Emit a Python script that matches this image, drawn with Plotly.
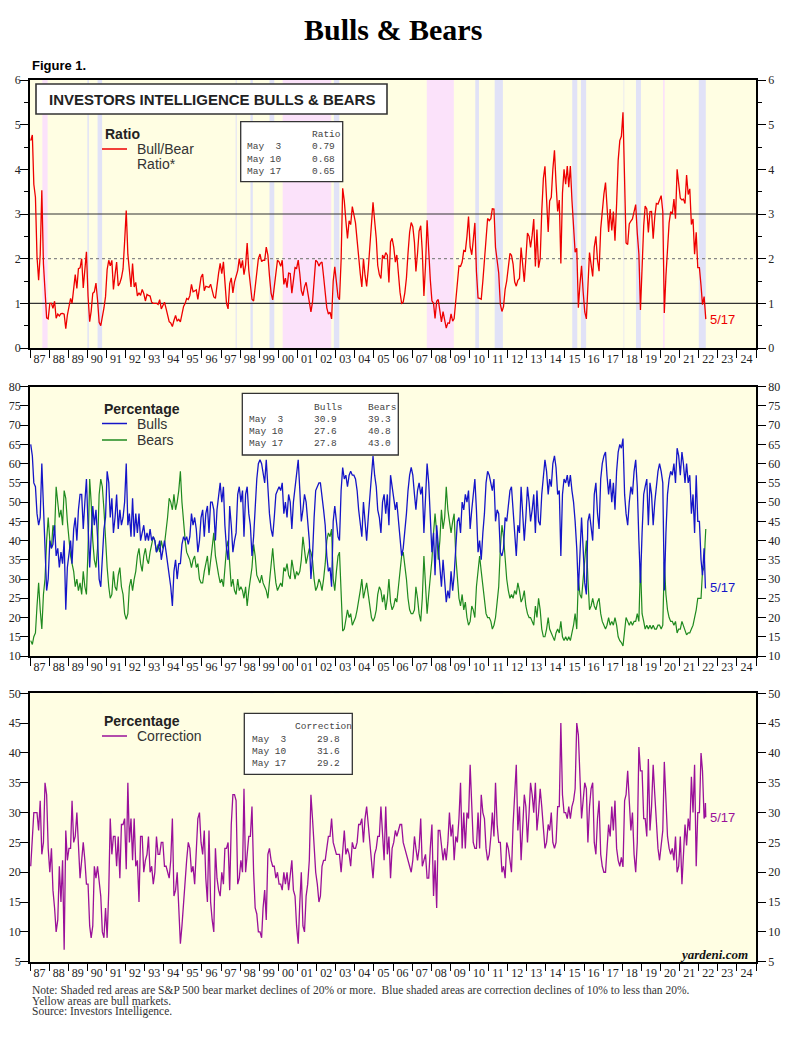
import pandas as pd
import plotly.graph_objects as go

W, H = 800, 1040
OFF = 8  # page body margin in the browser

# Investors Intelligence survey, monthly readings Jan 1987 .. Apr 2022 (percent)
bulls = [
    65, 62, 55, 54, 47, 44, 46, 60, 49, 35, 27, 30,        # 1987
    40, 38, 39, 44, 36, 38, 33, 37, 34, 40, 22, 33,        # 1988
    36, 40, 34, 43, 46, 40, 48, 52, 52, 43, 50, 56,        # 1989
    44, 33, 41, 49, 44, 48, 41, 30, 28, 36, 43, 46,        # 1990
    58, 55, 46, 51, 42, 46, 52, 43, 48, 44, 46, 50,        # 1991
    60, 44, 47, 41, 51, 41, 47, 42, 47, 40, 42, 44,        # 1992
    40, 42, 40, 43, 40, 41, 40, 37, 38, 40, 35, 37,        # 1993
    40, 37, 34, 30, 28, 23, 32, 35, 30, 34, 34, 39,        # 1994
    41, 40, 41, 39, 41, 47, 44, 46, 43, 37, 40, 46,        # 1995
    48, 41, 47, 49, 42, 50, 50, 48, 40, 48, 52, 55,        # 1996
    50, 54, 44, 38, 35, 49, 44, 37, 40, 42, 52, 54,        # 1997
    50, 53, 41, 52, 54, 47, 44, 36, 41, 50, 56, 60,        # 1998
    61, 60, 57, 55, 61, 52, 47, 43, 41, 46, 52, 53,        # 1999
    54, 53, 55, 47, 50, 46, 52, 50, 43, 50, 54, 57,        # 2000
    61, 53, 45, 48, 52, 50, 46, 40, 30, 36, 46, 53,        # 2001
    54, 55, 55, 52, 48, 44, 36, 32, 33, 28, 45, 49,        # 2002
    45, 41, 40, 53, 59, 56, 57, 54, 57, 58, 57, 57,        # 2003
    56, 53, 48, 45, 41, 50, 44, 40, 46, 52, 57, 62,        # 2004
    57, 54, 48, 46, 42, 50, 52, 47, 52, 44, 57, 54,        # 2005
    52, 48, 50, 45, 40, 36, 38, 42, 47, 53, 57, 59,        # 2006
    57, 52, 48, 53, 55, 52, 54, 42, 50, 60, 55, 46,        # 2007
    37, 42, 31, 44, 38, 33, 28, 35, 30, 24, 27, 25,        # 2008
    32, 27, 31, 38, 45, 46, 42, 50, 48, 52, 50, 53,        # 2009
    43, 48, 53, 56, 48, 37, 40, 35, 42, 47, 55, 58,        # 2010
    57, 55, 53, 56, 45, 48, 47, 37, 36, 38, 46, 45,        # 2011
    49, 53, 54, 47, 40, 36, 44, 42, 54, 46, 40, 46,        # 2012
    54, 50, 45, 48, 52, 42, 53, 45, 44, 52, 57, 61,        # 2013
    58, 52, 56, 54, 60, 62, 59, 52, 53, 36, 52, 56,        # 2014
    55, 57, 54, 57, 53, 50, 45, 38, 27, 37, 46, 38,        # 2015
    29, 26, 45, 47, 43, 40, 52, 55, 47, 43, 56, 60,        # 2016
    62, 63, 57, 52, 56, 50, 55, 48, 58, 63, 65, 64,        # 2017
    66.5, 52, 47, 44, 50, 54, 52, 58, 61, 54, 40, 29,      # 2018
    42, 52, 54, 56, 44, 55, 52, 44, 50, 55, 58, 60,        # 2019
    58, 55, 27, 42, 52, 56, 58, 57, 60, 55, 64, 62,        # 2020
    57, 63, 60, 55, 60, 55, 57, 47, 52, 42, 57, 45,        # 2021
    45, 35, 31, 38,                                        # 2022
]
bears = [
    14, 13, 15, 16, 23, 29, 22, 17, 26, 30, 40, 46,        # 1987
    40, 38, 44, 42, 54, 50, 46, 48, 44, 53, 51, 45,        # 1988
    40, 36, 34, 32, 28, 30, 27, 29, 26, 32, 28, 26,        # 1989
    38, 56, 50, 40, 35, 33, 38, 52, 56, 54, 48, 40,        # 1990
    33, 28, 25, 26, 32, 28, 27, 31, 33, 28, 26, 21,        # 1991
    19.5, 21, 28, 30, 27, 30, 32, 36, 38, 34, 32, 36,      # 1992
    38, 35, 34, 37, 39, 41, 40, 37, 39, 37, 40, 38,        # 1993
    39, 42, 46, 51, 50, 48, 52, 48, 50, 53, 58, 50,        # 1994
    44, 40, 37, 36, 35, 33, 35, 36, 33, 34, 30, 29,        # 1995
    29, 32, 34, 36, 31, 35, 38, 42, 36, 33, 31, 29,        # 1996
    30, 28, 32, 38, 40, 34, 28, 30, 27, 26, 30, 27,        # 1997
    28, 27, 25, 28, 23, 27, 30, 33, 39, 36, 31, 30,        # 1998
    29, 31, 29, 28, 27, 25, 29, 35, 38, 33, 29, 27,        # 1999
    28, 29, 28, 33, 32, 34, 31, 30, 35, 33, 30, 32,        # 2000
    31, 32, 35, 41, 38, 34, 36, 38, 37, 35, 30, 27,        # 2001
    28, 30, 29, 27, 30, 34, 40, 42, 41, 43, 30, 27,        # 2002
    32, 36, 37, 27, 16.5, 17, 20, 22, 20, 21, 18, 19,      # 2003
    20, 22, 24, 27, 30, 25, 27, 29, 26, 23, 20, 19,        # 2004
    20, 22, 26, 28, 27, 24, 26, 22, 25, 30, 24, 22,        # 2005
    23, 25, 24, 28, 32, 36, 37, 34, 30, 25, 22, 21,        # 2006
    21, 22, 28, 25, 21, 19, 25, 36, 27, 21, 26, 30,        # 2007
    35, 42, 47, 42, 35, 40, 48, 43, 46, 54, 48, 45,        # 2008
    42, 45, 47, 36, 30, 25, 23, 26, 22, 24, 20, 18,        # 2009
    19, 23, 22, 20, 28, 33, 36, 32, 28, 24, 21, 20,        # 2010
    20, 19, 17, 18, 20, 24, 28, 38, 44, 41, 35, 30,        # 2011
    27, 25, 26, 25, 27, 26, 29, 27, 24, 25, 27, 23,        # 2012
    21, 20, 20, 19, 18, 23, 20, 25, 22, 17, 15, 15,        # 2013
    17, 20, 17, 16, 15, 14, 16, 17, 16, 19, 15, 14,        # 2014
    15, 14, 15, 14, 16, 18, 21, 17, 30, 26, 25, 30,        # 2015
    36, 40, 30, 22, 23, 25, 23, 22, 24, 25, 21, 19,        # 2016
    18, 17, 18, 20, 18, 19, 18, 20, 18, 15, 14, 13.5,      # 2017
    12.6, 16, 20, 19, 18, 19, 18, 19, 19, 21, 19, 34,      # 2018
    21, 19, 17, 18, 17, 18, 17, 18, 17, 17, 18, 18,        # 2019
    17, 18, 34.5, 26, 22, 20, 19, 19, 18, 19, 16, 17,      # 2020
    17, 19, 18, 17, 15.5, 16, 16, 17, 18, 20, 22, 25,      # 2021
    25, 25, 32, 33,                                        # 2022
]
# latest weekly readings
latest_dates = ["2022-05-03", "2022-05-10", "2022-05-17"]
latest_bulls = [30.9, 27.6, 27.8]
latest_bears = [39.3, 40.8, 43.0]

# S&P 500 bear markets (red shading) and corrections (blue shading)
bear_markets = [("1987-08-25", "1987-12-04"), ("2000-03-24", "2002-10-09"),
                ("2007-10-09", "2009-03-09"), ("2020-02-19", "2020-03-23")]
corrections = [("1990-01-02", "1990-01-30"), ("1990-07-16", "1990-10-11"),
               ("1997-10-07", "1997-10-27"), ("1998-07-17", "1998-08-31"),
               ("1999-07-16", "1999-10-15"), ("2002-11-27", "2003-03-11"),
               ("2010-04-23", "2010-07-02"), ("2011-04-29", "2011-10-03"),
               ("2015-05-21", "2015-08-25"), ("2015-11-03", "2016-02-11"),
               ("2018-01-26", "2018-02-08"), ("2018-09-20", "2018-12-24"),
               ("2022-01-03", "2022-05-17")]

assert len(bulls) == len(bears)
months = pd.date_range("1987-01-01", periods=len(bulls), freq="MS") + pd.Timedelta(days=14)
dates = list(months.strftime("%Y-%m-%d")) + latest_dates
bull_s = pd.Series(bulls + latest_bulls, index=pd.to_datetime(dates))
bear_s = pd.Series(bears + latest_bears, index=pd.to_datetime(dates))
ratio_s = bull_s / bear_s
corr_s = 100 - bull_s - bear_s

RED = "#ee0000"
BLUE = "#1515c8"
GREEN = "#1f8a1f"
PURPLE = "#9a109a"
YELLOW = "#fffee3"
PINK = "#fbe2fa"
LBLUE = "#e1e2f7"
SERIF = "Liberation Serif"
SANS = "Liberation Sans"
MONO = "Liberation Mono"


def px(x):
    return (x - OFF) / W


def py(y):
    return 1 - (y - OFF) / H


X_DOM = [px(30), px(756)]
panels = [  # (yaxis name, domain, range, dtick)
    ("y", [py(348), py(80)], [0, 6], 1),
    ("y2", [py(656), py(386.7)], [10, 80], 5),
    ("y3", [py(961.7), py(693.3)], [5, 50], 5),
]

fig = go.Figure()

fig.add_trace(go.Scatter(x=ratio_s.index, y=ratio_s.values, mode="lines",
                         line=dict(color=RED, width=1.3), xaxis="x", yaxis="y"))
fig.add_trace(go.Scatter(x=bear_s.index, y=bear_s.values, mode="lines",
                         line=dict(color=GREEN, width=1.2), xaxis="x2", yaxis="y2"))
fig.add_trace(go.Scatter(x=bull_s.index, y=bull_s.values, mode="lines",
                         line=dict(color=BLUE, width=1.3), xaxis="x2", yaxis="y2"))
fig.add_trace(go.Scatter(x=corr_s.index, y=corr_s.values, mode="lines",
                         line=dict(color=PURPLE, width=1.3), xaxis="x3", yaxis="y3"))
# invisible copies so the right-hand axes get drawn
for s, ya in [(ratio_s, "y4"), (bull_s, "y5"), (corr_s, "y6")]:
    fig.add_trace(go.Scatter(x=s.index, y=s.values, mode="lines", opacity=0,
                             line=dict(width=0), xaxis="x", yaxis=ya, hoverinfo="skip"))

tickfont = dict(family=SERIF, size=12, color="#222")
layout = dict(width=W, height=H, margin=dict(l=0, r=0, t=0, b=0, pad=0),
              paper_bgcolor="white", plot_bgcolor=YELLOW, showlegend=False,
              hovermode=False)

for i, (ya, dom, rng, dt) in enumerate(panels):
    n = "" if i == 0 else str(i + 1)
    xa = "x" + n
    layout["xaxis" + n] = dict(
        domain=X_DOM, anchor=ya, type="date", range=["1987-01-01", "2025-01-01"],
        tick0="1987-01-01", dtick="M12", tickformat="%y", ticklabelmode="period",
        ticks="outside", ticklen=8, tickwidth=1, tickcolor="black",
        showgrid=False, zeroline=False, showline=True, linewidth=1.5,
        linecolor="black", mirror=True, tickfont=tickfont, ticklabelstandoff=-9,
        automargin=False, **({} if i == 0 else dict(matches="x")))
    ax = dict(domain=dom, range=rng, dtick=dt, tick0=0, ticks="outside", ticklen=8,
              tickwidth=1, tickcolor="black", showgrid=False, zeroline=False,
              showline=True, linewidth=1.5, linecolor="black", tickfont=tickfont,
              automargin=False)
    if i == 0:
        ax["minor"] = dict(dtick=0.5, ticks="outside", ticklen=4, tickcolor="black",
                           showgrid=False)
    layout["yaxis" + n] = dict(ax, anchor=xa, mirror=True, ticklabelstandoff=-3)
    layout["yaxis" + str(i + 4)] = dict(ax, overlaying=ya, side="right", anchor=xa)

fig.update_layout(**layout)

# shaded market regimes
for ya, _, _, _ in panels:
    xa = "x" + ya[1:]
    for spans, col in [(corrections, LBLUE), (bear_markets, PINK)]:
        for a, b in spans:
            fig.add_shape(type="rect", xref=xa, yref=ya + " domain", x0=a, x1=b,
                          y0=0, y1=1, fillcolor=col, line_width=0, layer="below")

# reference lines
ref_lines = [("y", 1, "#333", "solid"), ("y", 3, "#333", "solid"),
             ("y", 2, "#888", "dot"), ("y2", 50, "#333", "solid"),
             ("y3", 25, GREEN, "solid")]
for ya, v, col, dash in ref_lines:
    xa = "x" + ya[1:]
    fig.add_shape(type="line", xref=xa + " domain", yref=ya, x0=0, x1=1, y0=v, y1=v,
                  line=dict(color=col, width=1.1, dash=dash), layer="below")


def text(x, y, s, size=14, family=SANS, color="#222", anchor="left", **kw):
    fig.add_annotation(x=px(x), y=py(y), xref="paper", yref="paper", text=s,
                       showarrow=False, xanchor=anchor, yanchor="middle",
                       font=dict(family=family, size=size, color=color), **kw)


def box(x0, y0, x1, y1, width=1.3):
    fig.add_shape(type="rect", xref="paper", yref="paper", x0=px(x0), x1=px(x1),
                  y0=py(y1), y1=py(y0), fillcolor="white",
                  line=dict(color="#333", width=width), layer="above")


def legend_line(y, col):
    fig.add_shape(type="line", xref="paper", yref="paper", x0=px(102), x1=px(127),
                  y0=py(y), y1=py(y), line=dict(color=col, width=1.5))


text(393, 29, "<b>Bulls & Bears</b>", size=30, family=SERIF, color="black", anchor="center")
text(30, 65, "<b>Figure 1.</b>", size=13, color="black")

box(36, 84, 387, 114, width=1.6)
text(211.5, 99.5, "<b>INVESTORS INTELLIGENCE BULLS & BEARS</b>", size=15, anchor="center")

# legends
text(103, 134, "<b>Ratio</b>", size=14)
legend_line(149, RED)
text(135, 149, "Bull/Bear", size=14, color="#333")
text(135, 164, "Ratio*", size=14, color="#333")

text(102, 409, "<b>Percentage</b>", size=14)
legend_line(423.5, BLUE)
text(135, 423.5, "Bulls", size=14, color="#333")
legend_line(440, GREEN)
text(135, 440, "Bears", size=14, color="#333")

text(102, 720.7, "<b>Percentage</b>", size=14)
legend_line(736, PURPLE)
text(135, 736, "Correction", size=14, color="#333")

# latest-value boxes
row_labels = [pd.Timestamp(d).strftime("%b") + "\u00a0" + f"{pd.Timestamp(d).day:2d}".replace(" ", "\u00a0")
              for d in latest_dates]
mono = dict(size=9.5, family=MONO, color="#444")

box(240.7, 121.7, 342.7, 181.7)
text(310, 134, "Ratio", **mono)
for k, (lab, d) in enumerate(zip(row_labels, latest_dates)):
    yy = 147 + 12 * k
    text(245, yy, lab, **mono)
    text(310, yy, f"{ratio_s[d]:.2f}", **mono)

box(242.3, 393.3, 398.3, 455)
text(311.7, 407.3, "Bulls", **mono)
text(366, 407.3, "Bears", **mono)
for k, (lab, d) in enumerate(zip(row_labels, latest_dates)):
    yy = 420 + 11.8 * k
    text(247, yy, lab, **mono)
    text(311.7, yy, f"{bull_s[d]:.1f}", **mono)
    text(366, yy, f"{bear_s[d]:.1f}", **mono)

box(244.3, 713.3, 352.3, 774.3)
text(293.3, 726, "Correction", **mono)
for k, (lab, d) in enumerate(zip(row_labels, latest_dates)):
    yy = 739.3 + 12 * k
    text(250, yy, lab, **mono)
    text(315, yy, f"{corr_s[d]:.1f}", **mono)

# end-of-series date labels
last = pd.Timestamp(latest_dates[-1])
end_lab = f"{last.month}/{last.day}"
for s, xa, ya, col in [(ratio_s, "x", "y", RED), (bull_s, "x2", "y2", BLUE),
                       (corr_s, "x3", "y3", PURPLE)]:
    fig.add_annotation(x=last, y=s.iloc[-1], xref=xa, yref=ya, text=end_lab,
                       showarrow=False, xanchor="left", yanchor="middle", xshift=2,
                       font=dict(family=SANS, size=13, color=col))

text(750, 954, "<b><i>yardeni.com</i></b>", size=13, family=SERIF, color="#111", anchor="right")

notes = ["Note: Shaded red areas are S&P 500 bear market declines of 20% or more.  "
         "Blue shaded areas are correction declines of 10% to less than 20%.",
         "Yellow areas are bull markets.",
         "Source: Investors Intelligence."]
for k, s in enumerate(notes):
    text(30, 989.5 + 11 * k, s, size=11.5, family=SERIF, color="#333")

fig.write_html("out.html")
